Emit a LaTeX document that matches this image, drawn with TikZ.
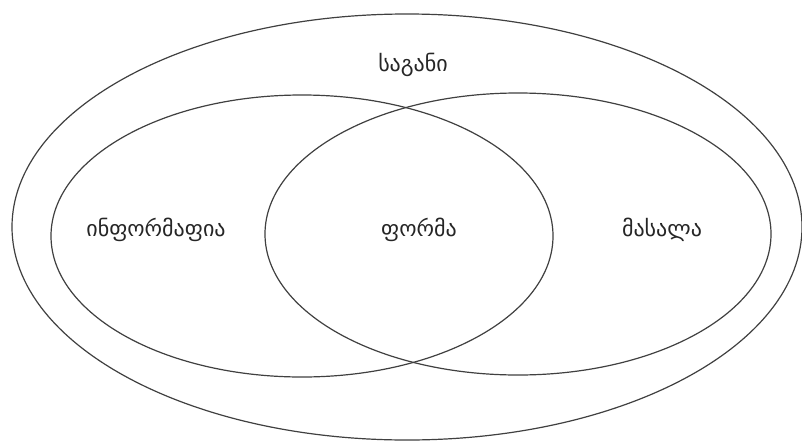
\documentclass[tikz,border=0pt]{standalone}
\usepackage{fontspec}
\newfontfamily\geofont{DejaVu Sans}
\begin{document}
\begin{tikzpicture}[x=1pt,y=-1pt,
  ring/.style={draw=black!75,line width=1.2pt},
  lbl/.style={font=\geofont\fontsize{22}{26}\selectfont,text=black!85,inner sep=0pt}]
\useasboundingbox (0,0) rectangle (802,442);
\fill[white] (0,0) rectangle (802,442);
\draw[ring] (407,227) ellipse [x radius=395, y radius=213];
\draw[ring] (302,236) ellipse [x radius=251, y radius=141];
\draw[ring] (518,234) ellipse [x radius=253, y radius=141];
\node[lbl] (sagani) at (413,65) {საგანი};
\node[lbl] (info) at (156,230) {ინფორმაფია};
\node[lbl] (forma) at (419,230) {ფორმა};
\node[lbl] (masala) at (662,230) {მასალა};
\end{tikzpicture}
\end{document}
